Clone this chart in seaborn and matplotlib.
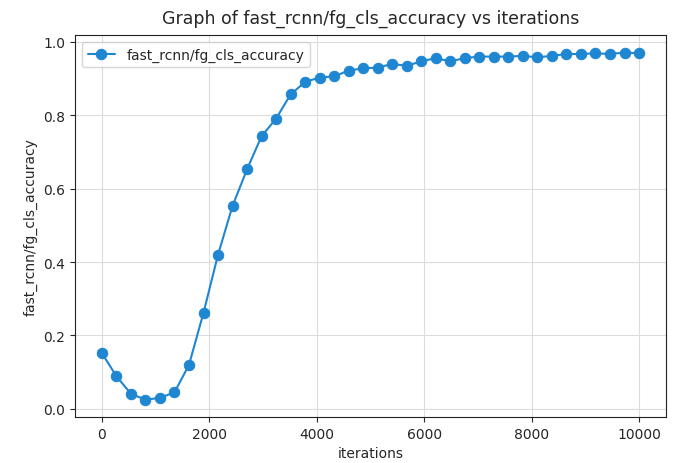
import numpy as np
import pandas as pd
import matplotlib
matplotlib.use("Agg")
import matplotlib.pyplot as plt
import seaborn as sns

metric = "fast_rcnn/fg_cls_accuracy"

iterations = [0, 270, 541, 811, 1081, 1351, 1622, 1892, 2162, 2432,
              2703, 2973, 3243, 3514, 3784, 4054, 4324, 4595, 4865, 5135,
              5405, 5676, 5946, 6216, 6486, 6757, 7027, 7297, 7568, 7838,
              8108, 8378, 8649, 8919, 9189, 9459, 9730, 10000]
accuracy = [0.152, 0.089, 0.041, 0.025, 0.030, 0.045, 0.120, 0.262, 0.420, 0.553,
            0.653, 0.743, 0.791, 0.857, 0.891, 0.903, 0.906, 0.922, 0.928, 0.930,
            0.940, 0.935, 0.947, 0.956, 0.947, 0.956, 0.960, 0.960, 0.960, 0.962,
            0.958, 0.962, 0.967, 0.967, 0.969, 0.967, 0.971, 0.969]

df = pd.DataFrame({"iterations": iterations, metric: accuracy})

sns.set_style("ticks", {"axes.grid": True, "grid.color": "#dcdcdc",
                        "axes.edgecolor": "#222222"})
plt.rcParams['font.family'] = ['DejaVu Sans']

fig = plt.figure(figsize=(6.76, 4.64), dpi=100)
ax = fig.add_axes([0.111, 0.099, 0.874, 0.823])

col = "#1f86d2"
sns.lineplot(data=df, x="iterations", y=metric, ax=ax, color=col,
             marker="o", markersize=7.5, markeredgecolor=col, linewidth=1.5,
             label=metric)

ax.set_title("Graph of fast_rcnn/fg_cls_accuracy vs iterations", fontsize=12.5, pad=9)
ax.set_xlabel("iterations", fontsize=10)
ax.set_ylabel(metric, fontsize=10)
ax.tick_params(labelsize=10)
ax.set_xticks([0, 2000, 4000, 6000, 8000, 10000])
ax.set_yticks([0.0, 0.2, 0.4, 0.6, 0.8, 1.0])
ax.legend(loc="upper left", fontsize=10)

fig.savefig("out.png", dpi=100)
